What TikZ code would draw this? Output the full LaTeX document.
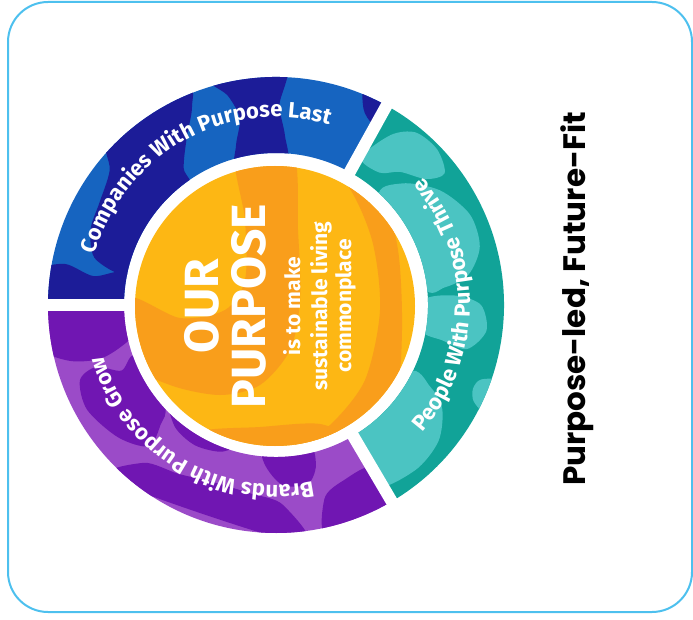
\documentclass[tikz,border=0pt]{standalone}
\usepackage{fontspec}
\usetikzlibrary{decorations.text}
\newfontfamily\ringfont{Fira Sans}
\newfontfamily\sidefont{Poppins}
\definecolor{frame}{RGB}{77,192,238}
\definecolor{blueA}{RGB}{22,100,192}
\definecolor{blueD}{RGB}{28,28,152}
\definecolor{tealA}{RGB}{17,163,152}
\definecolor{tealL}{RGB}{75,196,194}
\definecolor{purpA}{RGB}{155,75,200}
\definecolor{purpD}{RGB}{112,22,178}
\definecolor{gold}{RGB}{253,183,20}
\definecolor{amber}{RGB}{249,158,27}
\begin{document}
\begin{tikzpicture}[x=1pt,y=1pt,
  ringpart/.style 2 args={insert path={(#1:228) arc[start angle=#1, end angle=#2, radius=228]
      -- (#2:152) arc[start angle=#2, end angle=#1, radius=152] -- cycle}},
  ringlabel/.style={decorate, decoration={text along path, text align=center,
      text={|\ringfont\bfseries\fontsize{22}{22}\selectfont\color{white}|#1}}},
  bigword/.style={rotate=90, anchor=base, text=white, inner sep=0pt,
      font=\ringfont\bfseries\fontsize{48}{48}\selectfont},
  smallword/.style={rotate=90, anchor=base, text=white, inner sep=0pt,
      font=\ringfont\bfseries\fontsize{21}{21}\selectfont}]
\useasboundingbox (0,0) rectangle (693,619);

% outer frame
\draw[frame, line width=2pt, rounded corners=40pt] (8,617) rectangle (692,7);

% ---- outer ring -------------------------------------------------------
\begin{scope}[shift={(276,314)}]
  % blue segment
  \fill[blueA, ringpart={61}{180}];
  \begin{scope}
    \clip[ringpart={61}{180}];
    \fill[blueD] plot[smooth cycle] coordinates {(181:140) (181:240) (172:240) (169:215) (171:185) (168:160) (170:140)};
    \fill[blueD] plot[smooth cycle] coordinates {(167:140) (166:185) (158:200) (150:204) (141:214) (134:240) (112:240) (113:215) (118:190) (124:165) (128:140)};
    \fill[blueD] plot[smooth cycle] coordinates {(107:240) (103:215) (101:190) (104:165) (106:140) (86:140) (87:170) (89:200) (88:240)};
    \fill[blueD] plot[smooth cycle] coordinates {(68:240) (66:215) (62:205) (58:205) (58:240)};
  \end{scope}
  % teal segment
  \fill[tealA, ringpart={-59.5}{61}];
  \begin{scope}
    \clip[ringpart={-59.5}{61}];
    \fill[tealL] plot[smooth cycle] coordinates {(60:170) (56:205) (51:222) (44:224) (38:214) (40:196) (47:182) (52:168)};
    \fill[tealL] plot[smooth cycle] coordinates {(46:148) (44:175) (35:200) (25:214) (16:212) (9:195) (6:170) (7:148)};
    \fill[tealL] plot[smooth cycle] coordinates {(2:148) (3:180) (0:205) (-7:212) (-13:196) (-12:170) (-10:148)};
    \fill[tealL] plot[smooth cycle] coordinates {(-27:148) (-28:175) (-32:196) (-40:212) (-50:216) (-62:206) (-62:148)};
    \fill[tealL] plot[smooth cycle] coordinates {(-19:236) (-20:218) (-23:214) (-26:220) (-27:236)};
  \end{scope}
  % purple segment
  \fill[purpA, ringpart={180}{300.5}];
  \begin{scope}
    \clip[ringpart={180}{300.5}];
    \fill[purpD] plot[smooth cycle] coordinates {(179:140) (179:240) (190:240) (195:215) (197:185) (195:160) (190:140)};
    \fill[purpD] plot[smooth cycle] coordinates {(200:150) (203:168) (199:190) (201:210) (209:216) (220:206) (228:190) (226:166) (222:150)};
    \fill[purpD] plot[smooth cycle] coordinates {(227:240) (230:206) (240:195) (250:188) (262:190) (272:200) (276:240)};
    \fill[purpD] plot[smooth cycle] coordinates {(265:140) (266:160) (272:180) (280:182) (284:165) (283:140)};
    \fill[purpD] plot[smooth cycle] coordinates {(283:240) (284:200) (291:188) (302:190) (306:240)};
    \fill[purpD] plot[smooth cycle] coordinates {(222:140) (230:158) (240:162) (250:156) (253:140)};
  \end{scope}
  % white cuts between the segments
  \foreach \a in {180,61,-59.5}
    \draw[white, line width=12pt] (\a:140) -- (\a:240);
  % ring captions
  \path[ringlabel={Companies With Purpose Last}] (179:188) arc[start angle=179, end angle=59, radius=188];
  \path[ringlabel={People With Purpose Thrive}] (-58:194) arc[start angle=-58, end angle=58, radius=194];
  \path[ringlabel={Brands With Purpose Grow}] (299:180) arc[start angle=299, end angle=179, radius=180];
\end{scope}

% ---- centre disc --------------------------------------------------------
\fill[gold] (275,313) circle[radius=140];
\begin{scope}
  \clip (275,313) circle[radius=140];
  \begin{scope}[shift={(0,619)}, yscale=-1]
    \fill[amber] plot[smooth cycle] coordinates {(236,150) (292,150) (298,230) (300,300) (290,350) (260,385) (220,395) (170,385) (128,360) (128,298) (180,318) (225,310) (245,280) (245,220)};
    \fill[amber] plot[smooth cycle] coordinates {(300,155) (345,182) (372,240) (380,310) (365,380) (330,425) (295,445) (360,448) (395,400) (402,330) (398,250) (380,190) (340,158)};
    \fill[amber] plot[smooth cycle] coordinates {(200,432) (260,427) (320,424) (352,442) (300,458) (220,458)};
  \end{scope}
\end{scope}

\node[bigword] (our) at (218,313) {OUR};
\node[bigword] (purpose) at (265,313) {PURPOSE};
\node[smallword] (aimA) at (300,313) {is to make};
\node[smallword] (aimB) at (327,313) {sustainable living};
\node[smallword] (aimC) at (351,313) {commonplace};

% side title
\node[rotate=90, anchor=base, inner sep=0pt, font=\sidefont\bfseries\fontsize{31}{31}\selectfont] (side) at (585,320) {Purpose-led, Future-Fit};
\end{tikzpicture}
\end{document}
